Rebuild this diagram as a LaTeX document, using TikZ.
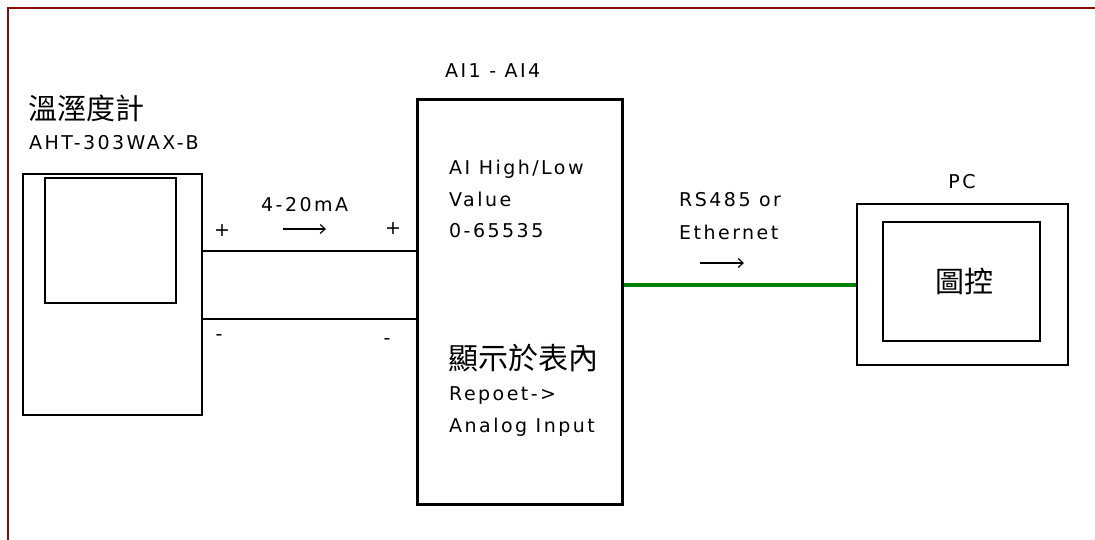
\documentclass[tikz,border=0pt]{standalone}
\usepackage{fontspec}
\setmainfont{DejaVu Sans}[LetterSpace=13]
\newfontfamily\cjk{Noto Sans CJK TC}
\usetikzlibrary{arrows.meta}
\definecolor{frame}{HTML}{8B0A0A}
\definecolor{wire}{HTML}{008000}
\tikzset{
  lbl/.style={inner sep=0pt, anchor=base west, font=\fontsize{19}{23}\selectfont},
  cjklbl/.style={inner sep=0pt, font=\cjk\fontsize{29}{34}\selectfont},
  sign/.style={inner sep=0pt, font=\fontsize{19}{23}\selectfont},
  flow/.style={line width=1.2pt, -{Straight Barb[length=5pt,width=9pt]}},
}
\begin{document}
\begin{tikzpicture}[x=1pt,y=-1pt]
\useasboundingbox (0,0) rectangle (1095,540);
\fill[white] (0,0) rectangle (1095,540);
% page frame
\draw[frame, line width=2pt] (8,541) -- (8,8) -- (1096,8);

% sensor device
\node[draw, line width=1.7pt, inner sep=0pt, minimum width=179pt, minimum height=241pt] (dev) at (112.5,294.5) {};
\node[draw, line width=1.7pt, inner sep=0pt, minimum width=131pt, minimum height=125pt] (devscr) at (110.5,240.5) {};
\node[cjklbl, anchor=base west] (devname) at (28,120) {溫溼度計};
\node[lbl] (devmodel) at (29,150) {AHT-303WAX-B};

% AI module
\node[draw, line width=3pt, inner sep=0pt, minimum width=205pt, minimum height=404pt] (ai) at (519.5,302) {};
\node[lbl] (aititle) at (445,78) {AI1 - AI4};
\node[lbl] (ai1) at (449,175) {AI High/Low};
\node[lbl] (ai2) at (449,207) {Value};
\node[lbl] (ai3) at (449,238) {0-65535};
\node[cjklbl, anchor=base west, font=\cjk\fontsize{30}{34}\selectfont] (ai4) at (448,369) {顯示於表內};
\node[lbl] (ai5) at (449,400) {Repoet->};
\node[lbl] (ai6) at (449,432) {Analog Input};

% PC
\node[draw, line width=1.7pt, inner sep=0pt, minimum width=211pt, minimum height=161pt] (pc) at (962.5,284.5) {};
\node[draw, line width=1.7pt, inner sep=0pt, minimum width=157pt, minimum height=119pt] (pcscr) at (961.5,281.5) {};
\node[cjklbl] (pcapp) at (964,281) {圖控};
\node[lbl, anchor=base] (pcname) at (962,189) {PC};

% 4-20mA wires
\coordinate (wp) at (0,251);
\coordinate (wm) at (0,319);
\draw[line width=1.7pt] (dev.east |- wp) -- (ai.west |- wp);
\draw[line width=1.7pt] (dev.east |- wm) -- (ai.west |- wm);
\node[sign] (p1) at (222,231) {+};
\node[sign] (p2) at (393,229) {+};
\node[sign] (m1) at (219,338) {-};
\node[sign] (m2) at (387,342) {-};
\node[lbl] (ma) at (261,212) {4-20mA};
\coordinate (a1s) at (283,229);
\coordinate (a1e) at (326,229);
\draw[flow] (a1s) -- (a1e);

% network link
\draw[wire, line width=4pt] (ai.east |- pc.west) -- (pc.west);
\node[lbl] (net1) at (679,207) {RS485 or};
\node[lbl] (net2) at (679,240) {Ethernet};
\coordinate (a2s) at (700,263);
\coordinate (a2e) at (744,263);
\draw[flow] (a2s) -- (a2e);
\end{tikzpicture}
\end{document}
